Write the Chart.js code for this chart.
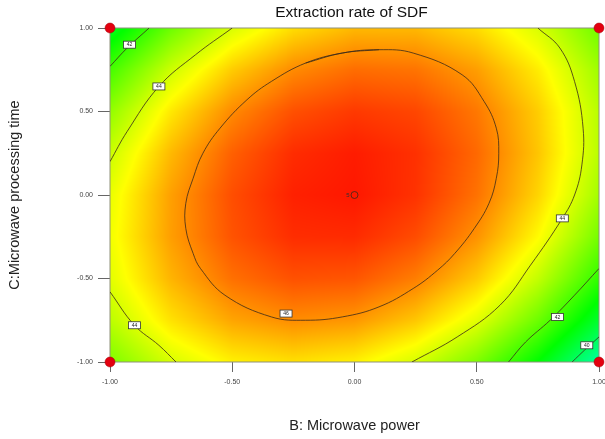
<!DOCTYPE html>
<html lang="en">
<head>
    <meta charset="UTF-8">
    <title>Extraction rate of SDF</title>
    <script src="https://cdn.jsdelivr.net/npm/chart.js@4.4.1/dist/chart.umd.min.js"></script>
    <style>
        body {
            margin: 0;
            background: #ffffff;
        }
        #contourChart {
            display: block;
        }
    </style>
</head>
<body>
    <canvas id="contourChart" width="605" height="439"></canvas>

    <script>
// Axis ticks (coded factor levels)
const xTicks = [-1, -0.5, 0, 0.5, 1];
const yTicks = [-1, -0.5, 0, 0.5, 1];

// Response on a 0.25 grid (rows from C = 1.00 down to C = -1.00)
const gridX = [-1, -0.75, -0.5, -0.25, 0, 0.25, 0.5, 0.75, 1];
const gridY = [1, 0.75, 0.5, 0.25, 0, -0.25, -0.5, -0.75, -1];
const response = [
    [40.69, 42.58, 43.99, 44.94, 45.42, 45.42, 44.95, 44.01, 42.61],
    [42.04, 43.84, 45.17, 46.02, 46.41, 46.32, 45.77, 44.74, 43.24],
    [43.07, 44.79, 46.03, 46.79, 47.09, 46.92, 46.27, 45.16, 43.57],
    [43.80, 45.42, 46.58, 47.26, 47.47, 47.20, 46.47, 45.26, 43.59],
    [44.22, 45.75, 46.82, 47.41, 47.53, 47.18, 46.35, 45.06, 43.30],
    [44.33, 45.77, 46.75, 47.25, 47.28, 46.84, 45.93, 44.55, 42.69],
    [44.13, 45.48, 46.37, 46.78, 46.72, 46.19, 45.20, 43.72, 41.78],
    [43.61, 44.88, 45.68, 46.00, 45.86, 45.24, 44.15, 42.59, 40.56],
    [42.79, 43.97, 44.68, 44.91, 44.68, 43.97, 42.80, 41.15, 39.03]
];

// Contour lines
// (the closed 46 loop runs a little past its start so the join stays smooth)
const contour46 = [
    {x: -0.20, y: 0.79}, {x: -0.05, y: 0.85}, {x: 0.10, y: 0.87}, {x: 0.24, y: 0.85},
    {x: 0.44, y: 0.72}, {x: 0.53, y: 0.56}, {x: 0.58, y: 0.40}, {x: 0.59, y: 0.25},
    {x: 0.58, y: 0.10}, {x: 0.55, y: -0.05}, {x: 0.49, y: -0.20}, {x: 0.41, y: -0.35},
    {x: 0.34, y: -0.45}, {x: 0.24, y: -0.56}, {x: 0.10, y: -0.67}, {x: -0.05, y: -0.73},
    {x: -0.20, y: -0.75}, {x: -0.34, y: -0.73}, {x: -0.53, y: -0.60}, {x: -0.63, y: -0.44},
    {x: -0.66, y: -0.35}, {x: -0.69, y: -0.20}, {x: -0.69, y: -0.05}, {x: -0.66, y: 0.10},
    {x: -0.62, y: 0.25}, {x: -0.55, y: 0.40}, {x: -0.44, y: 0.57}, {x: -0.34, y: 0.68},
    {x: -0.20, y: 0.79}, {x: -0.05, y: 0.85}, {x: 0.10, y: 0.87}
];
const contour44TopLeft = [
    {x: -0.50, y: 1.00}, {x: -0.65, y: 0.84}, {x: -0.80, y: 0.65}, {x: -0.93, y: 0.38}, {x: -1.00, y: 0.20}
];
const contour44BottomLeft = [
    {x: -1.00, y: -0.58}, {x: -0.90, y: -0.78}, {x: -0.80, y: -0.90}, {x: -0.73, y: -1.00}
];
const contour44Right = [
    {x: 0.75, y: 1.00}, {x: 0.84, y: 0.88}, {x: 0.90, y: 0.68}, {x: 0.935, y: 0.40},
    {x: 0.93, y: 0.18}, {x: 0.90, y: 0.00}, {x: 0.85, y: -0.14}, {x: 0.72, y: -0.42},
    {x: 0.595, y: -0.66}, {x: 0.42, y: -0.85}, {x: 0.235, y: -1.00}
];
const contour42TopLeft = [
    {x: -0.84, y: 1.00}, {x: -0.93, y: 0.88}, {x: -1.00, y: 0.77}
];
const contour42BottomRight = [
    {x: 1.00, y: -0.44}, {x: 0.90, y: -0.60}, {x: 0.80, y: -0.75}, {x: 0.70, y: -0.88}, {x: 0.63, y: -1.00}
];
const contour40 = [
    {x: 1.00, y: -0.85}, {x: 0.94, y: -0.93}, {x: 0.89, y: -1.00}
];

const contourLabels = [
    {x: -0.92, y: 0.90, text: '42'},
    {x: -0.80, y: 0.65, text: '44'},
    {x: -0.90, y: -0.78, text: '44'},
    {x: -0.28, y: -0.71, text: '46'},
    {x: 0.85, y: -0.14, text: '44'},
    {x: 0.83, y: -0.73, text: '42'},
    {x: 0.95, y: -0.90, text: '40'}
];

// Design points: factorial corners and the replicated centre point
const designPoints = [
    {x: -1, y: 1}, {x: 1, y: 1}, {x: -1, y: -1}, {x: 1, y: -1}
];
const centerPoint = [{x: 0, y: 0}];
const centerRuns = '5';

const chartTitle = 'Extraction rate of SDF';
const fontFamily = '"Liberation Sans", Arial, sans-serif';

// colour scale: hue runs red -> yellow -> green -> cyan as the response drops
function valueColor(v) {
    let h = 60 + (44.5 - v) * 18;
    h = Math.max(0, Math.min(240, h));
    const f = (n) => {
        const k = (n + h / 30) % 12;
        return 255 * (0.5 - 0.5 * Math.max(-1, Math.min(k - 3, 9 - k, 1)));
    };
    return [f(0), f(8), f(4)];
}

function sampleGrid(xv, yv) {
    const nx = gridX.length, ny = gridY.length;
    let fx = (xv - gridX[0]) / (gridX[1] - gridX[0]);
    let fy = (gridY[0] - yv) / (gridY[0] - gridY[1]);
    fx = Math.max(0, Math.min(nx - 1, fx));
    fy = Math.max(0, Math.min(ny - 1, fy));
    const i0 = Math.min(nx - 2, Math.floor(fx));
    const j0 = Math.min(ny - 2, Math.floor(fy));
    const tx = fx - i0, ty = fy - j0;
    const a = response[j0][i0], b = response[j0][i0 + 1];
    const c = response[j0 + 1][i0], d = response[j0 + 1][i0 + 1];
    return (a * (1 - tx) + b * tx) * (1 - ty) + (c * (1 - tx) + d * tx) * ty;
}

const heatmapPlugin = {
    id: 'heatmap',
    beforeDatasetsDraw(chart) {
        const {ctx, chartArea: area, scales: {x, y}} = chart;
        const w = Math.round(area.right - area.left);
        const h = Math.round(area.bottom - area.top);
        const off = document.createElement('canvas');
        off.width = w;
        off.height = h;
        const octx = off.getContext('2d');
        const img = octx.createImageData(w, h);
        for (let j = 0; j < h; j++) {
            const yv = y.getValueForPixel(area.top + j + 0.5);
            for (let i = 0; i < w; i++) {
                const xv = x.getValueForPixel(area.left + i + 0.5);
                const [r, g, b] = valueColor(sampleGrid(xv, yv));
                const p = (j * w + i) * 4;
                img.data[p] = r;
                img.data[p + 1] = g;
                img.data[p + 2] = b;
                img.data[p + 3] = 255;
            }
        }
        octx.putImageData(img, 0, 0);
        ctx.save();
        ctx.drawImage(off, area.left, area.top);
        ctx.strokeStyle = '#8f917c';
        ctx.lineWidth = 1;
        ctx.strokeRect(area.left, area.top, w, h);
        ctx.restore();
    }
};

const labelPlugin = {
    id: 'contourLabels',
    afterDatasetsDraw(chart) {
        const {ctx, scales: {x, y}} = chart;
        ctx.save();
        ctx.font = '5px ' + fontFamily;
        ctx.textAlign = 'center';
        ctx.textBaseline = 'middle';
        contourLabels.forEach(l => {
            const px = x.getPixelForValue(l.x);
            const py = y.getPixelForValue(l.y);
            ctx.fillStyle = '#ffffff';
            ctx.fillRect(px - 6, py - 3.5, 12, 7);
            ctx.strokeStyle = '#333333';
            ctx.lineWidth = 0.8;
            ctx.strokeRect(px - 6, py - 3.5, 12, 7);
            ctx.fillStyle = '#222222';
            ctx.fillText(l.text, px, py + 0.3);
        });
        // replicate count beside the centre point
        ctx.font = '6px ' + fontFamily;
        ctx.fillStyle = '#333333';
        ctx.textAlign = 'right';
        const cx = x.getPixelForValue(centerPoint[0].x);
        const cy = y.getPixelForValue(centerPoint[0].y);
        ctx.fillText(centerRuns, cx - 5, cy + 0.5);
        ctx.restore();
    },
    afterDraw(chart) {
        // title centred over the plot area, as in the original
        const {ctx, chartArea: area} = chart;
        ctx.save();
        ctx.font = '15.5px ' + fontFamily;
        ctx.fillStyle = '#111111';
        ctx.textAlign = 'center';
        ctx.textBaseline = 'middle';
        ctx.fillText(chartTitle, (area.left + area.right) / 2 - 3, area.top - 15);
        ctx.restore();
    }
};

function contourSet(data) {
    return {
        data: data,
        showLine: true,
        borderColor: '#3a2a1a',
        borderWidth: 0.8,
        pointRadius: 0,
        tension: 0.4,
        fill: false
    };
}

const tickFont = {family: fontFamily, size: 7};

const chart = new Chart(document.getElementById('contourChart'), {
    type: 'scatter',
    data: {
        datasets: [
            contourSet(contour46),
            contourSet(contour44TopLeft),
            contourSet(contour44BottomLeft),
            contourSet(contour44Right),
            contourSet(contour42TopLeft),
            contourSet(contour42BottomRight),
            contourSet(contour40),
            {
                data: centerPoint,
                pointRadius: 3.5,
                pointBackgroundColor: 'rgba(0,0,0,0)',
                pointBorderColor: '#3a2a1a',
                pointBorderWidth: 0.8
            },
            {
                data: designPoints,
                pointRadius: 5,
                pointBackgroundColor: '#e3000f',
                pointBorderColor: '#a00008',
                pointBorderWidth: 0.5,
                clip: false
            }
        ]
    },
    options: {
        responsive: false,
        animation: false,
        devicePixelRatio: 1,
        layout: {
            padding: {left: 0, right: 6, top: 28, bottom: 0}
        },
        scales: {
            x: {
                type: 'linear',
                min: -1,
                max: 1,
                afterBuildTicks: scale => {
                    scale.ticks = xTicks.map(v => ({value: v}));
                },
                afterFit: scale => {
                    scale.height = 77;
                    scale.paddingLeft = 0;
                    scale.paddingRight = 0;
                },
                border: {display: false},
                grid: {
                    drawOnChartArea: false,
                    drawTicks: true,
                    tickLength: 10,
                    color: '#666666'
                },
                ticks: {
                    font: tickFont,
                    color: '#444444',
                    padding: 6,
                    maxRotation: 0,
                    callback: v => v.toFixed(2)
                },
                title: {
                    display: true,
                    text: 'B: Microwave power',
                    font: {family: fontFamily, size: 14.5},
                    color: '#222222',
                    padding: {top: 4, bottom: 4}
                }
            },
            y: {
                type: 'linear',
                min: -1,
                max: 1,
                afterBuildTicks: scale => {
                    scale.ticks = yTicks.map(v => ({value: v}));
                },
                afterFit: scale => {
                    scale.width = 110;
                    scale.paddingTop = 0;
                    scale.paddingBottom = 0;
                },
                border: {display: false},
                grid: {
                    drawOnChartArea: false,
                    drawTicks: true,
                    tickLength: 12,
                    color: '#666666'
                },
                ticks: {
                    font: tickFont,
                    color: '#444444',
                    padding: 5,
                    callback: v => v.toFixed(2)
                },
                title: {
                    display: true,
                    text: 'C:Microwave processing time',
                    font: {family: fontFamily, size: 14.5},
                    color: '#222222',
                    padding: {top: 6, bottom: 6}
                }
            }
        },
        plugins: {
            legend: {display: false},
            tooltip: {enabled: false},
            title: {display: false}
        }
    },
    plugins: [heatmapPlugin, labelPlugin]
});
    </script>
</body>
</html>
